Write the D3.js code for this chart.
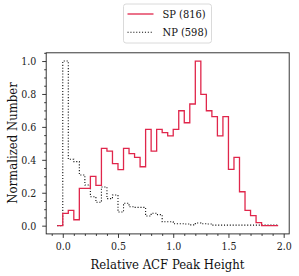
<html>
<head>
<meta charset="UTF-8">
<script src="https://d3js.org/d3.v7.min.js"></script>
<style>
body {
	margin: 0;
	background: white;
}
</style>
</head>
<body>
<svg id="chart" width="299" height="276"></svg>
<script>
// bordes de los bins del histograma (ancho 0.05)
var binEdges = [-0.05, 0.00, 0.05, 0.10, 0.15, 0.20, 0.25, 0.30, 0.35, 0.40,
	0.45, 0.50, 0.55, 0.60, 0.65, 0.70, 0.75, 0.80, 0.85, 0.90,
	0.95, 1.00, 1.05, 1.10, 1.15, 1.20, 1.25, 1.30, 1.35, 1.40,
	1.45, 1.50, 1.55, 1.60, 1.65, 1.70, 1.75, 1.80, 1.85, 1.90, 1.95];

// SP (816), valores normalizados
var spValues = [0.000, 0.075, 0.093, 0.036, 0.227, 0.227, 0.300, 0.245, 0.470, 0.453,
	0.377, 0.340, 0.470, 0.437, 0.415, 0.358, 0.585, 0.453, 0.585, 0.565,
	0.545, 0.585, 0.698, 0.625, 0.739, 1.000, 0.798, 0.698, 0.662, 0.545,
	0.662, 0.342, 0.415, 0.206, 0.093, 0.061, 0.018, 0.000, 0.000, 0.000];

// NP (598), valores normalizados
var npValues = [0.000, 1.000, 0.403, 0.389, 0.308, 0.247, 0.176, 0.142, 0.235, 0.164,
	0.186, 0.083, 0.136, 0.115, 0.111, 0.111, 0.059, 0.075, 0.067, 0.024,
	0.024, 0.012, 0.012, 0.010, 0.005, 0.016, 0.012, 0.010, 0.003, 0.003,
	0.003, 0.003, 0.003, 0.003, 0.003, 0.003, 0.003, 0.003, 0.003, 0.003];

var xTicks = [0, 0.5, 1.0, 1.5, 2.0];
var xMinor = [-0.1, 0.1, 0.2, 0.3, 0.4, 0.6, 0.7, 0.8, 0.9, 1.1, 1.2, 1.3, 1.4, 1.6, 1.7, 1.8, 1.9];
var yTicks = [0, 0.2, 0.4, 0.6, 0.8, 1.0];
var yMinor = [0.05, 0.1, 0.15, 0.25, 0.3, 0.35, 0.45, 0.5, 0.55, 0.65, 0.7, 0.75, 0.85, 0.9, 0.95, 1.05];

var legendNames = ["SP (816)", "NP (598)"];

// solo hay DejaVu Serif como fuente con serifas
var serif = "'DejaVu Serif Condensed', 'DejaVu Serif'";

var svg = d3.select("#chart");

var x = d3.scaleLinear().domain([-0.15, 2.05]).range([46.2, 289.2]);
var y = d3.scaleLinear().domain([-0.05, 1.05]).range([233.9, 52.8]);

// contorno tipo "step" del histograma
function stepPoints(vals) {
	var pts = [[binEdges[0], 0]];
	vals.forEach(function(v, i) {
		pts.push([binEdges[i], v]);
		pts.push([binEdges[i + 1], v]);
	});
	pts.push([binEdges[binEdges.length - 1], 0]);
	return pts;
}

var line = d3.line().x(d => x(d[0])).y(d => y(d[1]));

svg.append("path")
	.attr("d", line(stepPoints(npValues)))
	.attr("fill", "none")
	.attr("stroke", "#111")
	.attr("stroke-width", 1.1)
	.attr("stroke-dasharray", "1.1,1.8");

svg.append("path")
	.attr("d", line(stepPoints(spValues)))
	.attr("fill", "none")
	.attr("stroke", "#e0264b")
	.attr("stroke-width", 1.3);

// ejes
svg.append("g")
	.attr("transform", "translate(0,233.9)")
	.call(d3.axisBottom(x).tickValues(xTicks).tickSize(4).tickPadding(5).tickFormat(d3.format(".1f")));
svg.append("g")
	.attr("transform", "translate(0,233.9)")
	.call(d3.axisBottom(x).tickValues(xMinor).tickSize(2).tickFormat(""));

svg.append("g")
	.attr("transform", "translate(46.2,0)")
	.call(d3.axisLeft(y).tickValues(yTicks).tickSize(4).tickPadding(6).tickFormat(d3.format(".1f")));
svg.append("g")
	.attr("transform", "translate(46.2,0)")
	.call(d3.axisLeft(y).tickValues(yMinor).tickSize(2).tickFormat(""));

svg.selectAll(".domain").remove();
svg.selectAll(".tick line").attr("stroke", "#222").attr("stroke-width", 0.9);
svg.selectAll(".tick text")
	.style("font-family", serif)
	.style("font-stretch", "condensed")
	.style("font-size", "10.5px")
	.attr("fill", "#222");

// marco
svg.append("rect")
	.attr("x", 46.2).attr("y", 52.8)
	.attr("width", 289.2 - 46.2).attr("height", 233.9 - 52.8)
	.attr("fill", "none")
	.attr("stroke", "#222")
	.attr("stroke-width", 0.9);

// etiquetas de ejes
svg.append("text")
	.attr("x", 167.5).attr("y", 269)
	.attr("text-anchor", "middle")
	.style("font-family", serif)
	.style("font-stretch", "condensed")
	.style("font-size", "13px")
	.attr("fill", "#111")
	.text("Relative ACF Peak Height");

svg.append("text")
	.attr("transform", "translate(17,143) rotate(-90)")
	.attr("text-anchor", "middle")
	.style("font-family", serif)
	.style("font-stretch", "condensed")
	.style("font-size", "13px")
	.attr("fill", "#111")
	.text("Normalized Number");

// leyenda
var legend = svg.append("g");
legend.append("rect")
	.attr("x", 123.5).attr("y", 4)
	.attr("width", 88).attr("height", 39)
	.attr("rx", 2.5)
	.attr("fill", "white")
	.attr("stroke", "#d6d6d6")
	.attr("stroke-width", 0.9);

legendNames.forEach(function(name, i) {
	var ly = 14 + i * 18.3;
	legend.append("line")
		.attr("x1", 127.5).attr("x2", 153.5)
		.attr("y1", ly).attr("y2", ly)
		.attr("stroke", i == 0 ? "#e0264b" : "#111")
		.attr("stroke-width", i == 0 ? 1.3 : 1.1)
		.attr("stroke-dasharray", i == 0 ? null : "1.1,1.8");
	legend.append("text")
		.attr("x", 162.5).attr("y", ly + 4)
		.style("font-family", serif)
		.style("font-stretch", "condensed")
		.style("font-size", "11px")
		.attr("fill", "#111")
		.text(name);
});
</script>
</body>
</html>
